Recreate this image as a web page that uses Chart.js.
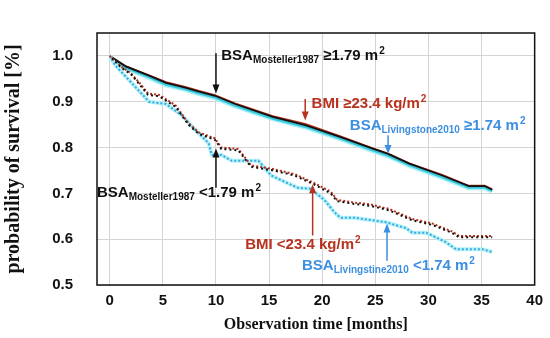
<!DOCTYPE html>
<html>
<head>
<meta charset="utf-8">
<script src="https://cdn.jsdelivr.net/npm/chart.js@4/dist/chart.umd.min.js"></script>
<style>
  html, body { margin: 0; padding: 0; background: #fff; }
  #wrap { width: 550px; height: 338px; }
</style>
</head>
<body>
<div id="wrap"><canvas id="myChart"></canvas></div>
<script>
// upper curves (solid)
var monthsHigh = [0, 1.5, 3.7, 5.3, 7.1, 8.4, 9.9, 11.8, 15.35, 18.4, 21.6, 24.7, 26.2, 28.2, 31.3, 33.8, 35.3, 36.0]
var mostellerHigh = [1.0, 0.977, 0.957, 0.941, 0.931, 0.922, 0.913, 0.895, 0.867, 0.849, 0.824, 0.798, 0.786, 0.765, 0.739, 0.716, 0.716, 0.708]
var livingstoneHigh = [0.997, 0.974, 0.953, 0.937, 0.927, 0.918, 0.909, 0.891, 0.863, 0.845, 0.820, 0.794, 0.782, 0.761, 0.735, 0.712, 0.712, 0.705]
var bmiHigh = [1.0, 0.978, 0.958, 0.943, 0.933, 0.924, 0.915, 0.897, 0.869, 0.852, 0.826, 0.799, 0.787, 0.766, 0.741, 0.717, 0.717, 0.709]

// lower curves (dotted)
var monthsLowM = [0, 1.1, 2.0, 2.8, 3.6, 4.65, 6.2, 7.4, 8.4, 9.9, 10.5, 12.1, 13.3, 15.2, 17.4, 19.2, 20.8, 21.4, 23.0, 24.5, 26.3, 28.5, 30.4, 32.2, 32.9, 36.0]
var mostellerLow = [1.0, 0.974, 0.96, 0.938, 0.915, 0.912, 0.889, 0.85, 0.83, 0.817, 0.797, 0.794, 0.758, 0.751, 0.739, 0.72, 0.70, 0.683, 0.677, 0.673, 0.663, 0.641, 0.631, 0.614, 0.604, 0.604]
var bmiLow = [1.0, 0.976, 0.962, 0.941, 0.918, 0.915, 0.892, 0.853, 0.833, 0.82, 0.80, 0.797, 0.761, 0.754, 0.742, 0.723, 0.704, 0.686, 0.68, 0.676, 0.666, 0.644, 0.634, 0.617, 0.607, 0.607]
var monthsLowL = [0, 0.5, 2.1, 3.7, 5.3, 6.8, 8.1, 9.3, 9.6, 10.5, 11.5, 14, 15.2, 17.7, 18.9, 20.2, 21.1, 21.7, 23, 26, 27.9, 28.5, 29.8, 31.6, 32.6, 35.1, 36]
var livingstoneLow = [1.0, 0.98, 0.94, 0.90, 0.895, 0.87, 0.837, 0.81, 0.784, 0.784, 0.771, 0.771, 0.739, 0.712, 0.71, 0.686, 0.66, 0.647, 0.647, 0.637, 0.624, 0.614, 0.614, 0.594, 0.578, 0.578, 0.572]

var xTicks = [0, 5, 10, 15, 20, 25, 30, 35, 40]
var yTicks = [0.5, 0.6, 0.7, 0.8, 0.9, 1.0]

function pts(xs, ys) {
  return xs.map(function (x, i) { return { x: x, y: ys[i] } })
}

var RED = '#b8321e'
var BLUE = '#3d8fe0'
var CYAN = '#35c8dc'

// text labels: [month, value, color, main, sub, rest, sup]
var labels = [
  [10.5, 0.99, '#111', 'BSA', 'Mosteller1987', ' \u22651.79 m', '2'],
  [19.0, 0.886, RED, 'BMI \u226523.4 kg/m', '', '', '2'],
  [22.6, 0.839, BLUE, 'BSA', 'Livingstone2010', ' \u22651.74 m', '2'],
  [-1.2, 0.692, '#111', 'BSA', 'Mosteller1987', ' <1.79 m', '2'],
  [12.75, 0.578, RED, 'BMI <23.4 kg/m', '', '', '2'],
  [18.1, 0.533, BLUE, 'BSA', 'Livingstine2010', ' <1.74 m', '2']
]
// arrows: [month, fromValue, toValue, color]
var arrows = [
  [10, 1.006, 0.918, '#111'],
  [18.4, 0.906, 0.859, RED],
  [26.2, 0.827, 0.786, BLUE],
  [10, 0.712, 0.798, '#111'],
  [19.1, 0.608, 0.72, RED],
  [26.1, 0.553, 0.634, BLUE]
]

var notes = {
  id: 'notes',
  afterDatasetsDraw: function (chart) {
    var c = chart.ctx, xs = chart.scales.x, ys = chart.scales.y, a = chart.chartArea
    c.save()
    // frame
    c.strokeStyle = '#111'
    c.lineWidth = 1.5
    c.strokeRect(a.left, a.top, a.right - a.left, a.bottom - a.top)
    // arrows
    arrows.forEach(function (r) {
      var x = xs.getPixelForValue(r[0]), y1 = ys.getPixelForValue(r[1]), y2 = ys.getPixelForValue(r[2])
      var dir = y2 > y1 ? 1 : -1
      c.strokeStyle = r[3]; c.fillStyle = r[3]; c.lineWidth = 1.5
      c.beginPath(); c.moveTo(x, y1); c.lineTo(x, y2 - dir * 6); c.stroke()
      c.beginPath(); c.moveTo(x, y2); c.lineTo(x - 3.5, y2 - dir * 9); c.lineTo(x + 3.5, y2 - dir * 9); c.closePath(); c.fill()
    })
    // labels
    c.textBaseline = 'alphabetic'
    var big = 'bold 15px "Liberation Sans", Arial, sans-serif'
    var small = 'bold 10px "Liberation Sans", Arial, sans-serif'
    labels.forEach(function (l) {
      var x = xs.getPixelForValue(l[0]), y = ys.getPixelForValue(l[1])
      c.fillStyle = l[2]
      c.font = big
      c.fillText(l[3], x, y); x += c.measureText(l[3]).width
      if (l[4]) {
        c.font = small
        c.fillText(l[4], x, y + 3); x += c.measureText(l[4]).width
      }
      if (l[5]) {
        c.font = big
        c.fillText(l[5], x, y); x += c.measureText(l[5]).width
      }
      c.font = small
      c.fillText(l[6], x + 1, y - 6)
    })
    c.restore()
  }
}

var tickFont = { family: '"Liberation Sans", Arial, sans-serif', size: 15, weight: 'bold' }
var titleFont = { family: '"Liberation Serif", "Times New Roman", serif', weight: 'bold' }

var ctx = document.getElementById('myChart')
var myChart = new Chart(ctx, {
  type: 'line',
  data: {
    // first dataset is drawn on top
    datasets: [
      { data: pts(monthsLowM, mostellerLow), borderColor: '#111', borderWidth: 2, borderDash: [2, 3], borderDashOffset: 2 },
      { data: pts(monthsLowM, bmiLow), borderColor: RED, borderWidth: 2, borderDash: [2, 2] },
      { data: pts(monthsLowL, livingstoneLow), borderColor: '#3aa8e0', borderWidth: 2, borderDash: [2, 2] },
      { data: pts(monthsLowL, livingstoneLow), borderColor: '#b6f2f8', borderWidth: 4 },
      { data: pts(monthsHigh, mostellerHigh), borderColor: '#111', borderWidth: 1.8 },
      { data: pts(monthsHigh, bmiHigh), borderColor: RED, borderWidth: 1.5 },
      { data: pts(monthsHigh, livingstoneHigh), borderColor: CYAN, borderWidth: 2 },
      { data: pts(monthsHigh, livingstoneHigh), borderColor: '#a8f0f6', borderWidth: 5 }
    ]
  },
  options: {
    responsive: true,
    maintainAspectRatio: false,
    animation: false,
    layout: { padding: { top: 5, right: 10, left: 0, bottom: 0 } },
    elements: { point: { radius: 0 }, line: { tension: 0, fill: false } },
    plugins: { legend: { display: false }, tooltip: { enabled: false } },
    scales: {
      x: {
        type: 'linear', min: -1.2, max: 40,
        afterBuildTicks: function (s) { s.ticks = xTicks.map(function (v) { return { value: v } }) },
        afterFit: function (s) { s.height = 53 },
        grid: { color: '#d4d4d4', drawTicks: false },
        border: { display: false },
        ticks: { font: tickFont, color: '#111', padding: 7, maxRotation: 0 },
        title: { display: true, text: 'Observation time [months]', font: Object.assign({ size: 16 }, titleFont), color: '#111', padding: { top: 4 } }
      },
      y: {
        min: 0.5, max: 1.05,
        afterBuildTicks: function (s) { s.ticks = yTicks.map(function (v) { return { value: v } }) },
        afterFit: function (s) { s.width = 97 },
        grid: { color: '#d4d4d4', drawTicks: false },
        border: { display: false },
        ticks: { font: tickFont, color: '#111', padding: 24, callback: function (v) { return v.toFixed(1) } },
        title: { display: true, text: 'probability of survival [%]', font: Object.assign({ size: 20 }, titleFont), color: '#111', padding: { top: 2 } }
      }
    }
  },
  plugins: [notes]
})
</script>
</body>
</html>
